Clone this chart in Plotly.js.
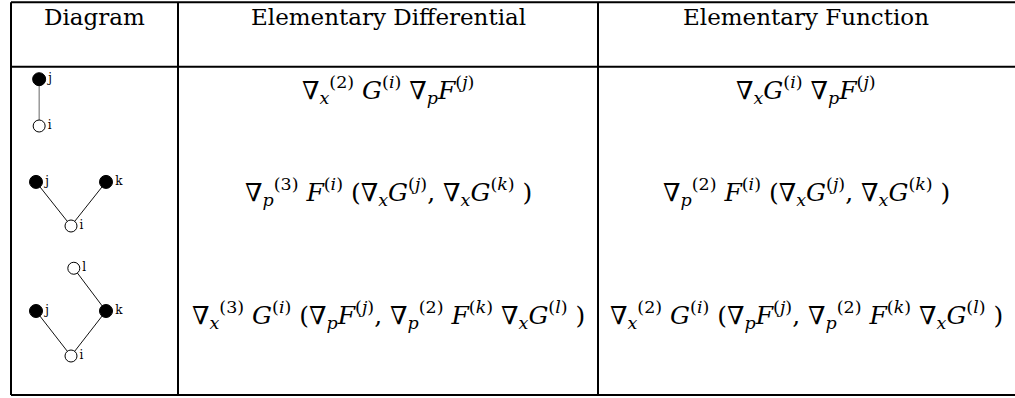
<!DOCTYPE html>
<html>
<head>
<meta charset="utf-8">
<script src="https://cdn.plot.ly/plotly-3.0.1.min.js"></script>
<style>
  html, body { margin: 0; padding: 0; background: #fff; }
  #plot { width: 1015px; height: 398px; }
</style>
</head>
<body>
<div id="plot"></div>
<script>
// Table header and the two text columns
let headers = ["Diagram", "Elementary Differential", "Elementary Function"];

// thin space after each superscript, as in the typeset original
let differentials = [
  "∇<sub><i>x</i></sub><sup>(2)</sup> <i>G</i><sup>(<i>i</i>)</sup> ∇<sub><i>p</i></sub><i>F</i><sup>(<i>j</i>)</sup>",
  "∇<sub><i>p</i></sub><sup>(3)</sup> <i>F</i><sup>(<i>i</i>)</sup> (∇<sub><i>x</i></sub><i>G</i><sup>(<i>j</i>)</sup>, ∇<sub><i>x</i></sub><i>G</i><sup>(<i>k</i>)</sup> )",
  "∇<sub><i>x</i></sub><sup>(3)</sup> <i>G</i><sup>(<i>i</i>)</sup> (∇<sub><i>p</i></sub><i>F</i><sup>(<i>j</i>)</sup>, ∇<sub><i>p</i></sub><sup>(2)</sup> <i>F</i><sup>(<i>k</i>)</sup> ∇<sub><i>x</i></sub><i>G</i><sup>(<i>l</i>)</sup> )"
];

let functions = [
  "∇<sub><i>x</i></sub><i>G</i><sup>(<i>i</i>)</sup> ∇<sub><i>p</i></sub><i>F</i><sup>(<i>j</i>)</sup>",
  "∇<sub><i>p</i></sub><sup>(2)</sup> <i>F</i><sup>(<i>i</i>)</sup> (∇<sub><i>x</i></sub><i>G</i><sup>(<i>j</i>)</sup>, ∇<sub><i>x</i></sub><i>G</i><sup>(<i>k</i>)</sup> )",
  "∇<sub><i>x</i></sub><sup>(2)</sup> <i>G</i><sup>(<i>i</i>)</sup> (∇<sub><i>p</i></sub><i>F</i><sup>(<i>j</i>)</sup>, ∇<sub><i>p</i></sub><sup>(2)</sup> <i>F</i><sup>(<i>k</i>)</sup> ∇<sub><i>x</i></sub><i>G</i><sup>(<i>l</i>)</sup> )"
];

// Tree diagrams: node labels, horizontal offset, level, filled or not, and edges (by label)
let nodeLabels = [["j", "i"], ["j", "k", "i"], ["l", "j", "k", "i"]];
let nodeX = [[-0.91, -0.91], [-1, 1, 0], [0.08, -1, 1, 0]];
let nodeY = [[1.04, 0], [0.98, 0.98, 0], [1.95, 1, 1, 0]];
let nodeFilled = [[true, false], [true, true, false], [false, true, true, false]];
let edges = [[["j", "i"]], [["i", "j"], ["i", "k"]], [["k", "l"], ["i", "j"], ["i", "k"]]];

const W = 1015, H = 398;
const font = "DejaVu Serif";

// table grid (pixel coords on main axes)
let colX = [11, 178, 598];
let rowTop = 2.2, headBottom = 66.7, rowBottom = 395;
let textRowY = [17, 90, 192, 315];
let colCenter = [94, 388, 806];
let zeroPx = [126, 226, 356];   // pixel y of level 0 for each diagram
const unitX = 35, unitY = 45, rootX = 71;

let data = [];
let layout = {
  width: W, height: H,
  margin: {l: 0, r: 0, t: 0, b: 0},
  paper_bgcolor: "#fff", plot_bgcolor: "rgba(0,0,0,0)",
  showlegend: false,
  font: {family: font, color: "#000"},
  xaxis: {range: [0, W], visible: false, fixedrange: true, domain: [0, 1]},
  yaxis: {range: [H, 0], visible: false, fixedrange: true, domain: [0, 1]},
  shapes: [],
  annotations: []
};

// grid lines
let lineStyle = {color: "#000", width: 2};
colX.forEach(x => layout.shapes.push({type: "line", xref: "x", yref: "y", x0: x, x1: x, y0: rowTop, y1: rowBottom, line: lineStyle}));
[rowTop, headBottom, rowBottom].forEach(y => layout.shapes.push({type: "line", xref: "x", yref: "y", x0: colX[0], x1: W + 5, y0: y, y1: y, line: lineStyle}));

// header texts
headers.forEach((h, c) => layout.annotations.push({
  xref: "x", yref: "y", x: colCenter[c], y: textRowY[0], text: h, showarrow: false,
  xanchor: "center", yanchor: "middle", font: {size: 23, family: font}
}));

// math texts
for (let r = 0; r < 3; r++) {
  [differentials[r], functions[r]].forEach((t, k) => layout.annotations.push({
    xref: "x", yref: "y", x: colCenter[k + 1], y: textRowY[r + 1], text: t, showarrow: false,
    xanchor: "center", yanchor: "middle", font: {size: 25, family: font}
  }));
}

// diagram subplots
for (let r = 0; r < 3; r++) {
  let xa = "xaxis" + (r + 2), ya = "yaxis" + (r + 2);
  let bottomPx = zeroPx[r] + 0.5 * unitY, topPx = zeroPx[r] - 2.5 * unitY;
  let leftPx = rootX - 2 * unitX, rightPx = rootX + 2 * unitX;
  layout[xa] = {range: [-2, 2], domain: [leftPx / W, rightPx / W], visible: false, fixedrange: true, anchor: "y" + (r + 2)};
  layout[ya] = {range: [-0.5, 2.5], domain: [(H - bottomPx) / H, (H - topPx) / H], visible: false, fixedrange: true, anchor: "x" + (r + 2)};

  let ex = [], ey = [];
  edges[r].forEach(([a, b]) => {
    let ia = nodeLabels[r].indexOf(a), ib = nodeLabels[r].indexOf(b);
    ex.push(nodeX[r][ia], nodeX[r][ib], null);
    ey.push(nodeY[r][ia], nodeY[r][ib], null);
  });
  data.push({
    x: ex, y: ey, xaxis: "x" + (r + 2), yaxis: "y" + (r + 2),
    type: "scatter", mode: "lines", line: {color: r === 0 ? "#666" : "#111", width: 1}, hoverinfo: "skip"
  });
  data.push({
    x: nodeX[r], y: nodeY[r], text: nodeLabels[r], xaxis: "x" + (r + 2), yaxis: "y" + (r + 2),
    type: "scatter", mode: "markers+text", textposition: "middle right",
    textfont: {size: 12, family: font, color: "#000"},
    marker: {
      size: nodeFilled[r].map(f => f ? 13 : 12),
      color: nodeFilled[r].map(f => f ? "#000" : "#fff"),
      line: {color: "#000", width: 1},
      opacity: 1
    },
    hoverinfo: "skip", cliponaxis: false
  });
}

Plotly.newPlot("plot", data, layout, {displayModeBar: false, staticPlot: true});
</script>
</body>
</html>
